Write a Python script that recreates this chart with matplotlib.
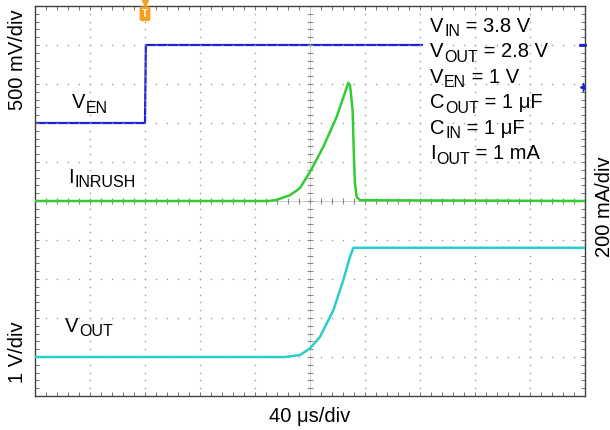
import numpy as np
import matplotlib
matplotlib.use("Agg")
import matplotlib.pyplot as plt
from matplotlib.patches import Rectangle

plt.rcParams['font.family'] = ['Liberation Sans', 'DejaVu Sans']

# time axis in us (40 us/div, 10 div), vertical in screen divisions (10 div)
# V_EN, 500 mV/div, ground at 7 div
ven_t = [0, 80, 80.6, 400]
ven_div = [7.0, 7.0, 9.0, 9.0]

# I_INRUSH, 200 mA/div, zero at 5 div
iin_t = [0, 170, 175.8, 185.5, 192.7, 200.7, 209.7, 219.4, 227.9, 229.1,
         231.0, 232.0, 232.7, 234.0, 236.4, 400]
iin_div = [5.0, 5.0, 5.03, 5.15, 5.33, 5.79, 6.39, 7.16, 8.03, 7.97,
           7.33, 6.05, 5.45, 5.10, 5.02, 5.0]

# V_OUT, 1 V/div, ground at 1 div
vout_t = [0, 181.8, 192.7, 200.0, 207.3, 217.0, 224.2, 229.1, 231.5, 400]
vout_div = [1.0, 1.0, 1.05, 1.22, 1.52, 2.2, 2.97, 3.57, 3.8, 3.8]

# (symbol, subscript, rest)
conditions = [("V", "IN", " = 3.8 V"),
              ("V", "OUT", " = 2.8 V"),
              ("V", "EN", " = 1 V"),
              ("C", "OUT", " = 1 μF"),
              ("C", "IN", " = 1 μF"),
              ("I", "OUT", " = 1 mA")]

FS = 14.5
SFS = 11.5

fig = plt.figure(figsize=(6.1, 4.3), dpi=100)
ax = fig.add_axes([35 / 610, 34 / 430, 550 / 610, 390 / 430])
ax.set_xlim(0, 400)
ax.set_ylim(0, 10)


def sub_label(x, y, main, sub, rest=''):
    # y is the text baseline in data units
    t0 = ax.text(x, y - 0.1, main, fontsize=FS, va='bottom', zorder=4)
    t1 = ax.annotate(sub, xy=(1, 0), xycoords=t0, xytext=(0.3, -2.5),
                     textcoords='offset points', fontsize=SFS, va='bottom', zorder=4)
    if rest:
        ax.annotate(rest, xy=(1, 0), xycoords=(t1, t0), fontsize=FS,
                    va='bottom', zorder=4)


# dotted scope graticule
xm = np.arange(0, 400.01, 8)
ym = np.arange(0, 10.001, 0.2)
for gy in range(1, 10):
    ax.scatter(xm, np.full_like(xm, gy), s=1.2, color='#9a9a9a', lw=0, zorder=2)
for gx in range(40, 400, 40):
    ax.scatter(np.full_like(ym, gx), ym, s=1.2, color='#9a9a9a', lw=0, zorder=2)

# center cross with ticks
ax.axvline(200, color='#c8c8c8', lw=0.6, zorder=2)
ax.axhline(5, color='#c8c8c8', lw=0.6, zorder=2)
ax.plot(np.full_like(ym, 200), ym, ls='none', marker='_', ms=4, mew=0.8,
        color='#8a8a8a', zorder=2)
ax.plot(xm, np.full_like(xm, 5), ls='none', marker='|', ms=4, mew=0.8,
        color='#8a8a8a', zorder=2)

ax.plot(ven_t, ven_div, color='#2020d8', lw=1.6, zorder=1)
ax.plot(iin_t, iin_div, color='#33cc33', lw=1.8, zorder=3)
ax.plot(vout_t, vout_div, color='#2ccccc', lw=1.8, zorder=3)

# white box behind conditions text
ax.add_patch(Rectangle((282, 5.8), 114.5, 4.2, fc='white', ec='none', zorder=1.5))
for i, (m, s, r) in enumerate(conditions):
    yb = (396 - (32 + 25.5 * i)) / 39
    sub_label(287.5, yb, m, s, r)

# channel markers on right edge
ax.plot([396.5, 400], [9.0, 9.0], color='#2020d8', lw=2, zorder=4, clip_on=False)
ax.plot([397.5], [7.93], marker='<', ms=3, color='#2020d8', zorder=4, clip_on=False)
ax.plot([398.5, 398.5], [7.83, 8.03], color='#2020d8', lw=1, zorder=4, clip_on=False)

# trigger marker
ax.plot([80], [10.08], marker='v', ms=4, color='#f5a020', clip_on=False, zorder=5)
ax.text(80, 9.8, "T", fontsize=7, color='white', fontweight='bold',
        ha='center', va='center', zorder=5, clip_on=False,
        bbox=dict(boxstyle='round,pad=0.25', fc='#f5a020', ec='none'))

sub_label(26.9, 7.38, "V", "EN")
sub_label(24.0, 5.46, "I", "INRUSH")
sub_label(21.8, 1.64, "V", "OUT")

ax.set_xticks(np.arange(0, 401, 40))
ax.set_yticks(np.arange(0, 11, 1))
ax.set_xticks(xm, minor=True)
ax.set_yticks(ym, minor=True)
ax.tick_params(which='both', direction='in', length=3, width=0.7, color='#707070',
               top=True, right=True, labelbottom=False, labelleft=False)
for sp in ax.spines.values():
    sp.set_color('#404040')
    sp.set_linewidth(1.0)

fig.text(17.5 / 610, 1 - 60 / 430, "500 mV/div", rotation=90, fontsize=FS,
         ha='center', va='center')
fig.text(17.5 / 610, 1 - 352 / 430, "1 V/div", rotation=90, fontsize=FS,
         ha='center', va='center')
fig.text(605 / 610, 1 - 207 / 430, "200 mA/div", rotation=90, fontsize=FS,
         ha='center', va='center')
fig.text(310 / 610, 1 - 422 / 430, "40 μs/div", fontsize=FS,
         ha='center', va='baseline')

fig.savefig("out.png", dpi=100, facecolor='white')
